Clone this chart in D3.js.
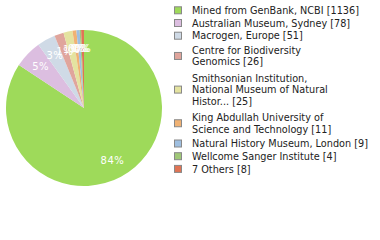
<!DOCTYPE html>
<html>
<head>
<meta charset="utf-8">
<script src="https://cdn.jsdelivr.net/npm/d3@7"></script>
<style>
  body { margin: 0; background: #fff; }
  svg { display: block; }
  text { font-family: "DejaVu Sans", sans-serif; }
</style>
</head>
<body>
<svg id="chart"></svg>
<script>
var screen = {width: 380, height: 240};

var names = ["Mined from GenBank, NCBI", "Australian Museum, Sydney", "Macrogen, Europe",
  "Centre for Biodiversity Genomics", "Smithsonian Institution, National Museum of Natural Histor...",
  "King Abdullah University of Science and Technology", "Natural History Museum, London",
  "Wellcome Sanger Institute", "7 Others"];
var counts = [1136, 78, 51, 26, 25, 11, 9, 4, 8];
var colors = ["#9eda5a", "#dcbee0", "#cfdae6", "#e0a59c", "#e4e3a0", "#f0b274", "#9fbfe0", "#a0c878", "#e07454"];

var svg = d3.select("#chart")
  .attr("width", screen.width)
  .attr("height", screen.height)

var total = d3.sum(counts)
var radius = 78
var cx = 84, cy = 108

var cScale = d3.scaleOrdinal().domain(names).range(colors)

var pie = d3.pie().sort(null).value(function(d) { return d.count })
var slices = pie(names.map(function(n, i) { return {name: n, count: counts[i]} }))

var arc = d3.arc().innerRadius(0).outerRadius(radius)
var labelArc = d3.arc().innerRadius(60).outerRadius(60)

var g = svg.append("g").attr("transform", "translate(" + cx + "," + cy + ")")

g.selectAll("path")
  .data(slices)
  .enter()
  .append("path")
  .attr("d", arc)
  .attr("fill", function(d) { return cScale(d.data.name) })

// percent labels, floored like the original
g.selectAll("text")
  .data(slices)
  .enter()
  .append("text")
  .attr("transform", function(d) { return "translate(" + labelArc.centroid(d) + ")" })
  .attr("text-anchor", "middle")
  .attr("dy", "0.36em")
  .attr("fill", "#fff")
  .style("font-size", "10px")
  .style("letter-spacing", "0.6px")
  .text(function(d) { return Math.floor(d.data.count / total * 100) + "%" })

// legend, wrap names at 30 chars
var wrap = function(s, max)
{
  var words = s.split(" "), lines = [], cur = ""
  words.forEach(function(w) {
    if (cur && (cur + " " + w).length > max) { lines.push(cur); cur = w }
    else cur = cur ? cur + " " + w : w
  })
  lines.push(cur)
  return lines
}

var lh = 11.7
var y = 10.3
var legend = svg.append("g").attr("id", "legend")

names.forEach(function(n, i) {
  var lines = wrap(n, 30)
  lines[lines.length - 1] += " [" + counts[i] + "]"
  var pad = lines.length > 1 ? 1.7 : 0
  y += pad
  var mid = y + (lines.length - 1) * lh / 2

  legend.append("rect")
    .attr("x", 174.5)
    .attr("y", mid - 3.5)
    .attr("width", 7)
    .attr("height", 7)
    .attr("fill", cScale(n))
    .attr("stroke", "#888")
    .attr("stroke-width", 1)

  var t = legend.append("text")
    .attr("x", 192)
    .attr("fill", "#222")
    .style("font-size", "9.7px")
  lines.forEach(function(l, j) {
    t.append("tspan")
      .attr("x", 192)
      .attr("y", y + j * lh + 3.6)
      .text(l)
  })
  y += (lines.length - 1) * lh + pad + 12.7
})
</script>
</body>
</html>
